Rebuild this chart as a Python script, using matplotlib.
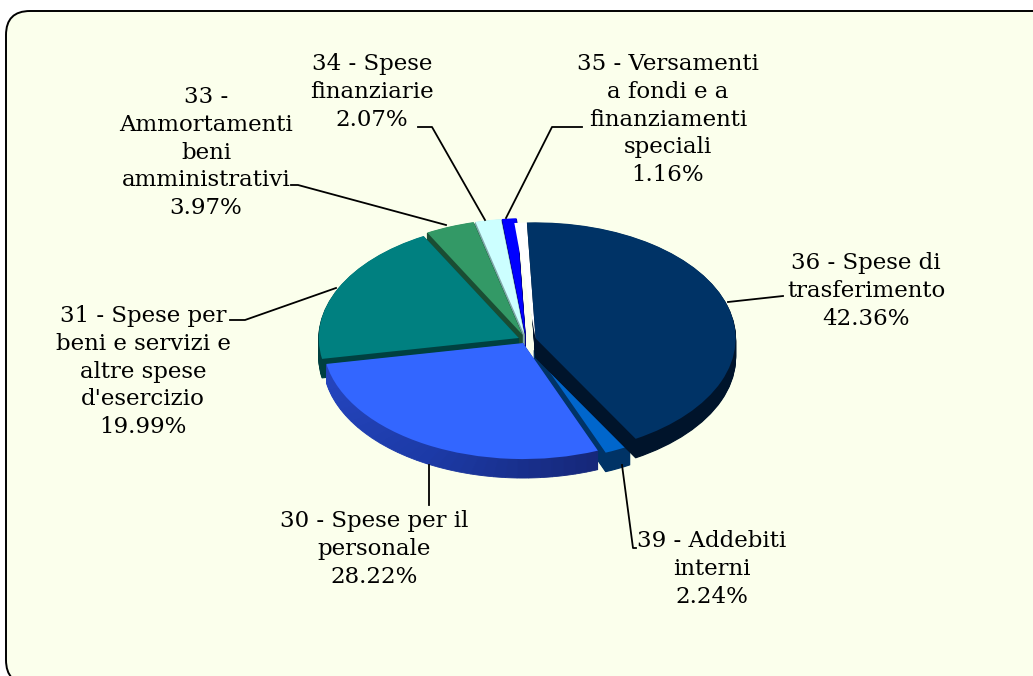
import numpy as np
import matplotlib
matplotlib.use("Agg")
import matplotlib.pyplot as plt
from matplotlib.colors import LinearSegmentedColormap
from matplotlib.patches import FancyBboxPatch

# chart data, clockwise from the top
names = ["36 - Spese di\ntrasferimento", "39 - Addebiti\ninterni", "30 - Spese per il\npersonale",
         "31 - Spese per\nbeni e servizi e\naltre spese\nd'esercizio",
         "33 -\nAmmortamenti\nbeni\namministrativi", "34 - Spese\nfinanziarie",
         "35 - Versamenti\na fondi e a\nfinanziamenti\nspeciali"]
values = [42.36, 2.24, 28.22, 19.99, 3.97, 2.07, 1.16]

colors = ["#003366", "#0066CC", "#3366FF", "#008080", "#339966", "#CCFFFF", "#0000FF"]
side_colors = ["#00142B", "#003366", "#1C3AA6", "#004040", "#1A4D33", "#7FA8A8", "#000080"]
explode = [0.05, 0.09, 0.03, 0.04, 0.05, 0.05, 0.05]
radii = [1, 0.96, 1, 1, 1, 1, 1]

W, H = 1033, 676
cx, cy, rx, ry = 526, 340, 200, 116
depth = 19
start = 92.5  # degrees, pie runs clockwise from here
gap = 3.6  # white sliver left of the first slice, degrees
draw_order = [6, 5, 4, 3, 1, 0, 2]

# label centre x, first line y, leader points (all in pixels)
label_pos = [(866, 263), (712, 541), (374, 521), (143, 316), (206, 97), (372, 64), (668, 64)]
leaders = [[(728, 302), (783, 296)],
           [(622, 465), (633, 548), (636, 548)],
           [(429, 465), (429, 505)],
           [(336, 288), (245, 320), (230, 320)],
           [(446, 225), (298, 185), (291, 185)],
           [(485, 220), (432, 127), (418, 127)],
           [(506, 218), (552, 127), (582, 127)]]

fig = plt.figure(figsize=(W / 100, H / 100), dpi=100, facecolor="white")

# pixel axes for the panel
bg = fig.add_axes([0, 0, 1, 1])
bg.set_xlim(0, W)
bg.set_ylim(H, 0)
bg.axis("off")
panel = FancyBboxPatch((6 + 24, 11 + 24), 1100, 625, boxstyle="round,pad=24,rounding_size=24",
                       facecolor="#FBFFEC", edgecolor="black", linewidth=1.4)
bg.add_patch(panel)

# squashed axes: the unit circle of the pie becomes an ellipse
ax = fig.add_axes([0, 0, 1, 1])
ax.patch.set_alpha(0)

total = sum(values)
fracs = [v / total for v in values]
angles = start - 360 * np.concatenate(([0], np.cumsum(fracs)[:-1]))

# side of the big blue slice gets darker towards its right end
blue_side = LinearSegmentedColormap.from_list("side", ["#16287A", "#1C3AA6", "#2444BC"])
n_steps = 30


def slice_center(i):
    mid = np.radians(angles[i] - 180 * fracs[i])
    return explode[i] * np.cos(mid), explode[i] * np.sin(mid)


for i in draw_order:
    ox, oy = slice_center(i)
    if i == 2:
        # side drawn in short pieces for the shading
        for k in range(n_steps):
            c = blue_side(k / (n_steps - 1))
            for d in range(depth, 0, -1):
                ax.pie([fracs[i] / n_steps], startangle=angles[i] - 360 * fracs[i] * k / n_steps,
                       counterclock=False, normalize=False, center=(ox, oy - d / ry), colors=[c],
                       wedgeprops={"linewidth": 0.6, "edgecolor": c})
    else:
        for d in range(depth, 0, -1):
            ax.pie([fracs[i]], startangle=angles[i], counterclock=False, normalize=False,
                   radius=radii[i], center=(ox, oy - d / ry), colors=[side_colors[i]],
                   wedgeprops={"linewidth": 0.8, "edgecolor": side_colors[i]})
    if i == 0:
        ax.pie([gap / 360], startangle=angles[i] + gap, counterclock=False, normalize=False,
               center=(ox, oy), colors=["white"], wedgeprops={"linewidth": 0})
    ax.pie([fracs[i]], startangle=angles[i], counterclock=False, normalize=False,
           radius=radii[i], center=(ox, oy), colors=[colors[i]], wedgeprops={"linewidth": 0})

ax.set_aspect("auto")
ax.set_xlim(-cx / rx, (W - cx) / rx)
ax.set_ylim((cy - H) / ry, cy / ry)
ax.axis("off")

# top layer for leaders and labels
top = fig.add_axes([0, 0, 1, 1])
top.patch.set_alpha(0)
top.set_xlim(0, W)
top.set_ylim(H, 0)
top.axis("off")
for i, pts in enumerate(leaders):
    top.plot([p[0] for p in pts], [p[1] for p in pts], color="black", linewidth=1.3)
    lines = names[i].split("\n") + [f"{values[i]:.2f}%"]
    x, y = label_pos[i]
    for k, line in enumerate(lines):
        top.text(x, y + k * 27.8, line, ha="center", va="center", family="DejaVu Serif",
                 fontsize=16.5, color="black")

fig.savefig("out.png", dpi=100)
